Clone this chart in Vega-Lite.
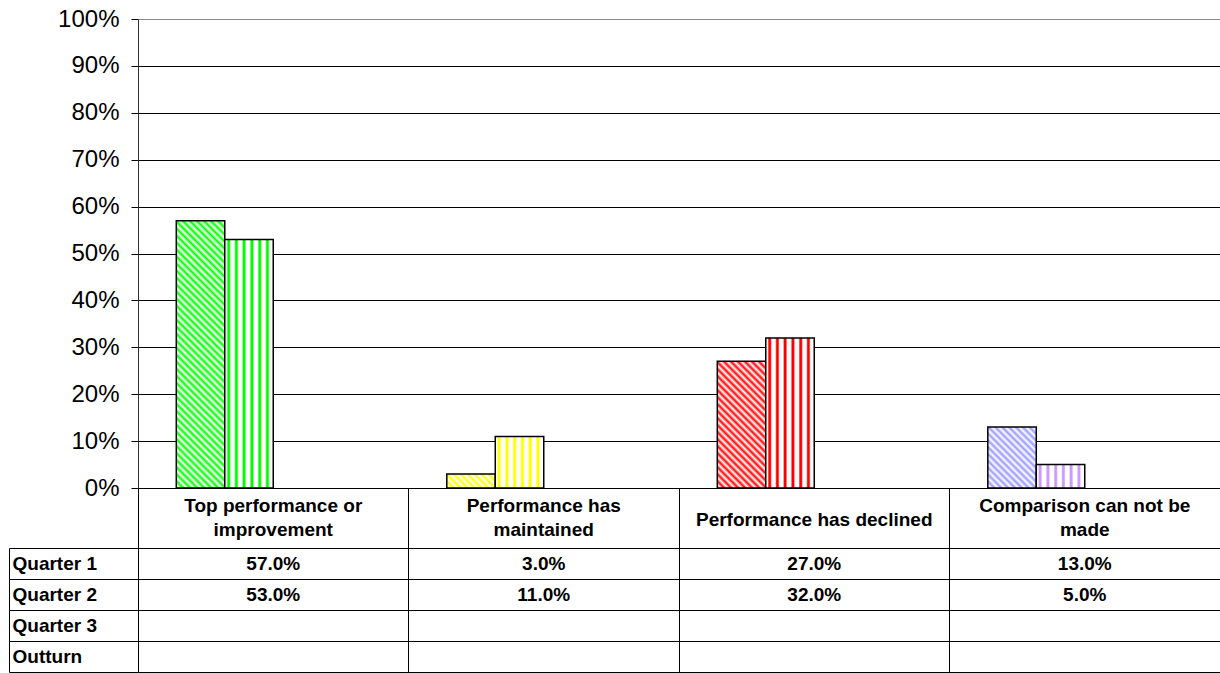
{
  "$schema": "https://vega.github.io/schema/vega-lite/v6.json",
  "padding": {"left": 8, "top": 7, "right": 0, "bottom": 0},
  "background": "white",
  "spacing": 60,
  "bounds": "flush",
  "config": {
    "view": {"stroke": null},
    "font": "Liberation Sans",
    "axis": {"labelFont": "Liberation Sans", "labelColor": "black"},
    "text": {"font": "Liberation Sans"}
  },
  "datasets": {
    "vals": [
      {"cat": "Top performance or improvement", "series": "Quarter 1", "value": 0.57},
      {"cat": "Top performance or improvement", "series": "Quarter 2", "value": 0.53},
      {"cat": "Performance has maintained", "series": "Quarter 1", "value": 0.03},
      {"cat": "Performance has maintained", "series": "Quarter 2", "value": 0.11},
      {"cat": "Performance has declined", "series": "Quarter 1", "value": 0.27},
      {"cat": "Performance has declined", "series": "Quarter 2", "value": 0.32},
      {"cat": "Comparison can not be made", "series": "Quarter 1", "value": 0.13},
      {"cat": "Comparison can not be made", "series": "Quarter 2", "value": 0.05}
    ]
  },
  "vconcat": [
    {
      "width": 1082,
      "height": 469,
      "data": {"name": "vals"},
      "mark": {"type": "bar", "stroke": "black", "strokeWidth": 1.5},
      "encoding": {
        "x": {
          "field": "cat", "type": "nominal",
          "sort": ["Top performance or improvement", "Performance has maintained", "Performance has declined", "Comparison can not be made"],
          "scale": {"type": "band", "paddingInner": 0, "paddingOuter": 0},
          "axis": {
            "title": null, "bandPosition": 0,
            "tickSize": 60, "tickColor": "black", "domainColor": "black",
            "labelPadding": {"condition": {"test": "datum.value == 'Performance has declined'", "value": -29}, "value": -43},
            "labelBaseline": "middle", "labelAngle": 0,
            "labelFontSize": 19, "labelFontWeight": "bold", "labelLimit": 0,
            "labelLineHeight": 24, "labelOverlap": false,
            "minExtent": 60, "maxExtent": 60,
            "labelExpr": "datum.value == 'Top performance or improvement' ? ['Top performance or', 'improvement'] : datum.value == 'Performance has maintained' ? ['Performance has', 'maintained'] : datum.value == 'Comparison can not be made' ? ['Comparison can not be', 'made'] : datum.label"
          }
        },
        "xOffset": {
          "field": "series", "type": "nominal",
          "scale": {"domain": ["Quarter 1", "Quarter 2", "Quarter 3", "Outturn"], "paddingInner": 0, "paddingOuter": 0.79}
        },
        "y": {
          "field": "value", "type": "quantitative",
          "scale": {"domain": [0, 1], "nice": false},
          "axis": {
            "title": null, "values": [0, 0.1, 0.2, 0.3, 0.4, 0.5, 0.6, 0.7, 0.8, 0.9, 1],
            "format": ".0%", "labelFontSize": 24, "labelPadding": 12,
            "tickSize": 7, "tickColor": "black", "domainColor": "#333333",
            "grid": true, "gridWidth": 1,
            "gridColor": {"condition": {"test": "datum.value >= 1", "value": "#888888"}, "value": "black"}
          }
        },
        "fill": {
          "condition": [
            {"test": "datum.series == 'Quarter 1' && datum.cat == 'Top performance or improvement'",
             "value": {"gradient": "linear", "x1": 0, "y1": 1, "x2": 0.2075, "y2": -0.1438, "stops": [
              {"offset": 0, "color": "#00ff00"}, {"offset": 0.0111, "color": "#ffffff"}, {"offset": 0.0222, "color": "#00ff00"}, {"offset": 0.0333, "color": "#ffffff"}, {"offset": 0.0444, "color": "#00ff00"}, {"offset": 0.0556, "color": "#ffffff"}, {"offset": 0.0667, "color": "#00ff00"}, {"offset": 0.0778, "color": "#ffffff"}, {"offset": 0.0889, "color": "#00ff00"}, {"offset": 0.1, "color": "#ffffff"},
              {"offset": 0.1111, "color": "#00ff00"}, {"offset": 0.1222, "color": "#ffffff"}, {"offset": 0.1333, "color": "#00ff00"}, {"offset": 0.1444, "color": "#ffffff"}, {"offset": 0.1556, "color": "#00ff00"}, {"offset": 0.1667, "color": "#ffffff"}, {"offset": 0.1778, "color": "#00ff00"}, {"offset": 0.1889, "color": "#ffffff"}, {"offset": 0.2, "color": "#00ff00"}, {"offset": 0.2111, "color": "#ffffff"},
              {"offset": 0.2222, "color": "#00ff00"}, {"offset": 0.2333, "color": "#ffffff"}, {"offset": 0.2444, "color": "#00ff00"}, {"offset": 0.2556, "color": "#ffffff"}, {"offset": 0.2667, "color": "#00ff00"}, {"offset": 0.2778, "color": "#ffffff"}, {"offset": 0.2889, "color": "#00ff00"}, {"offset": 0.3, "color": "#ffffff"}, {"offset": 0.3111, "color": "#00ff00"}, {"offset": 0.3222, "color": "#ffffff"},
              {"offset": 0.3333, "color": "#00ff00"}, {"offset": 0.3444, "color": "#ffffff"}, {"offset": 0.3556, "color": "#00ff00"}, {"offset": 0.3667, "color": "#ffffff"}, {"offset": 0.3778, "color": "#00ff00"}, {"offset": 0.3889, "color": "#ffffff"}, {"offset": 0.4, "color": "#00ff00"}, {"offset": 0.4111, "color": "#ffffff"}, {"offset": 0.4222, "color": "#00ff00"}, {"offset": 0.4333, "color": "#ffffff"},
              {"offset": 0.4444, "color": "#00ff00"}, {"offset": 0.4556, "color": "#ffffff"}, {"offset": 0.4667, "color": "#00ff00"}, {"offset": 0.4778, "color": "#ffffff"}, {"offset": 0.4889, "color": "#00ff00"}, {"offset": 0.5, "color": "#ffffff"}, {"offset": 0.5111, "color": "#00ff00"}, {"offset": 0.5222, "color": "#ffffff"}, {"offset": 0.5333, "color": "#00ff00"}, {"offset": 0.5444, "color": "#ffffff"},
              {"offset": 0.5556, "color": "#00ff00"}, {"offset": 0.5667, "color": "#ffffff"}, {"offset": 0.5778, "color": "#00ff00"}, {"offset": 0.5889, "color": "#ffffff"}, {"offset": 0.6, "color": "#00ff00"}, {"offset": 0.6111, "color": "#ffffff"}, {"offset": 0.6222, "color": "#00ff00"}, {"offset": 0.6333, "color": "#ffffff"}, {"offset": 0.6444, "color": "#00ff00"}, {"offset": 0.6556, "color": "#ffffff"},
              {"offset": 0.6667, "color": "#00ff00"}, {"offset": 0.6778, "color": "#ffffff"}, {"offset": 0.6889, "color": "#00ff00"}, {"offset": 0.7, "color": "#ffffff"}, {"offset": 0.7111, "color": "#00ff00"}, {"offset": 0.7222, "color": "#ffffff"}, {"offset": 0.7333, "color": "#00ff00"}, {"offset": 0.7444, "color": "#ffffff"}, {"offset": 0.7556, "color": "#00ff00"}, {"offset": 0.7667, "color": "#ffffff"},
              {"offset": 0.7778, "color": "#00ff00"}, {"offset": 0.7889, "color": "#ffffff"}, {"offset": 0.8, "color": "#00ff00"}, {"offset": 0.8111, "color": "#ffffff"}, {"offset": 0.8222, "color": "#00ff00"}, {"offset": 0.8333, "color": "#ffffff"}, {"offset": 0.8444, "color": "#00ff00"}, {"offset": 0.8556, "color": "#ffffff"}, {"offset": 0.8667, "color": "#00ff00"}, {"offset": 0.8778, "color": "#ffffff"},
              {"offset": 0.8889, "color": "#00ff00"}, {"offset": 0.9, "color": "#ffffff"}, {"offset": 0.9111, "color": "#00ff00"}, {"offset": 0.9222, "color": "#ffffff"}, {"offset": 0.9333, "color": "#00ff00"}, {"offset": 0.9444, "color": "#ffffff"}, {"offset": 0.9556, "color": "#00ff00"}, {"offset": 0.9667, "color": "#ffffff"}, {"offset": 0.9778, "color": "#00ff00"}, {"offset": 0.9889, "color": "#ffffff"},
              {"offset": 1, "color": "#00ff00"}
             ]}},
            {"test": "datum.series == 'Quarter 1' && datum.cat == 'Performance has maintained'",
             "value": {"gradient": "linear", "x1": 0, "y1": 1, "x2": 1.19, "y2": 0.6548, "stops": [
              {"offset": 0, "color": "#ffff00"}, {"offset": 0.0556, "color": "#ffffff"}, {"offset": 0.1111, "color": "#ffff00"}, {"offset": 0.1667, "color": "#ffffff"}, {"offset": 0.2222, "color": "#ffff00"}, {"offset": 0.2778, "color": "#ffffff"}, {"offset": 0.3333, "color": "#ffff00"}, {"offset": 0.3889, "color": "#ffffff"}, {"offset": 0.4444, "color": "#ffff00"}, {"offset": 0.5, "color": "#ffffff"},
              {"offset": 0.5556, "color": "#ffff00"}, {"offset": 0.6111, "color": "#ffffff"}, {"offset": 0.6667, "color": "#ffff00"}, {"offset": 0.7222, "color": "#ffffff"}, {"offset": 0.7778, "color": "#ffff00"}, {"offset": 0.8333, "color": "#ffffff"}, {"offset": 0.8889, "color": "#ffff00"}, {"offset": 0.9444, "color": "#ffffff"}, {"offset": 1, "color": "#ffff00"}
             ]}},
            {"test": "datum.series == 'Quarter 1' && datum.cat == 'Performance has declined'",
             "value": {"gradient": "linear", "x1": 0, "y1": 1, "x2": 0.4619, "y2": -0.2061, "stops": [
              {"offset": 0, "color": "#ff0000"}, {"offset": 0.02, "color": "#ffffff"}, {"offset": 0.04, "color": "#ff0000"}, {"offset": 0.06, "color": "#ffffff"}, {"offset": 0.08, "color": "#ff0000"}, {"offset": 0.1, "color": "#ffffff"}, {"offset": 0.12, "color": "#ff0000"}, {"offset": 0.14, "color": "#ffffff"}, {"offset": 0.16, "color": "#ff0000"}, {"offset": 0.18, "color": "#ffffff"},
              {"offset": 0.2, "color": "#ff0000"}, {"offset": 0.22, "color": "#ffffff"}, {"offset": 0.24, "color": "#ff0000"}, {"offset": 0.26, "color": "#ffffff"}, {"offset": 0.28, "color": "#ff0000"}, {"offset": 0.3, "color": "#ffffff"}, {"offset": 0.32, "color": "#ff0000"}, {"offset": 0.34, "color": "#ffffff"}, {"offset": 0.36, "color": "#ff0000"}, {"offset": 0.38, "color": "#ffffff"},
              {"offset": 0.4, "color": "#ff0000"}, {"offset": 0.42, "color": "#ffffff"}, {"offset": 0.44, "color": "#ff0000"}, {"offset": 0.46, "color": "#ffffff"}, {"offset": 0.48, "color": "#ff0000"}, {"offset": 0.5, "color": "#ffffff"}, {"offset": 0.52, "color": "#ff0000"}, {"offset": 0.54, "color": "#ffffff"}, {"offset": 0.56, "color": "#ff0000"}, {"offset": 0.58, "color": "#ffffff"},
              {"offset": 0.6, "color": "#ff0000"}, {"offset": 0.62, "color": "#ffffff"}, {"offset": 0.64, "color": "#ff0000"}, {"offset": 0.66, "color": "#ffffff"}, {"offset": 0.68, "color": "#ff0000"}, {"offset": 0.7, "color": "#ffffff"}, {"offset": 0.72, "color": "#ff0000"}, {"offset": 0.74, "color": "#ffffff"}, {"offset": 0.76, "color": "#ff0000"}, {"offset": 0.78, "color": "#ffffff"},
              {"offset": 0.8, "color": "#ff0000"}, {"offset": 0.82, "color": "#ffffff"}, {"offset": 0.84, "color": "#ff0000"}, {"offset": 0.86, "color": "#ffffff"}, {"offset": 0.88, "color": "#ff0000"}, {"offset": 0.9, "color": "#ffffff"}, {"offset": 0.92, "color": "#ff0000"}, {"offset": 0.94, "color": "#ffffff"}, {"offset": 0.96, "color": "#ff0000"}, {"offset": 0.98, "color": "#ffffff"},
              {"offset": 1, "color": "#ff0000"}
             ]}},
            {"test": "datum.series == 'Quarter 1' && datum.cat == 'Comparison can not be made'",
             "value": {"gradient": "linear", "x1": 0, "y1": 1, "x2": 0.8747, "y2": -0.0997, "stops": [
              {"offset": 0, "color": "#9999ff"}, {"offset": 0.03125, "color": "#ffffff"}, {"offset": 0.0625, "color": "#9999ff"}, {"offset": 0.09375, "color": "#ffffff"}, {"offset": 0.125, "color": "#9999ff"}, {"offset": 0.15625, "color": "#ffffff"}, {"offset": 0.1875, "color": "#9999ff"}, {"offset": 0.21875, "color": "#ffffff"}, {"offset": 0.25, "color": "#9999ff"}, {"offset": 0.28125, "color": "#ffffff"},
              {"offset": 0.3125, "color": "#9999ff"}, {"offset": 0.34375, "color": "#ffffff"}, {"offset": 0.375, "color": "#9999ff"}, {"offset": 0.40625, "color": "#ffffff"}, {"offset": 0.4375, "color": "#9999ff"}, {"offset": 0.46875, "color": "#ffffff"}, {"offset": 0.5, "color": "#9999ff"}, {"offset": 0.53125, "color": "#ffffff"}, {"offset": 0.5625, "color": "#9999ff"}, {"offset": 0.59375, "color": "#ffffff"},
              {"offset": 0.625, "color": "#9999ff"}, {"offset": 0.65625, "color": "#ffffff"}, {"offset": 0.6875, "color": "#9999ff"}, {"offset": 0.71875, "color": "#ffffff"}, {"offset": 0.75, "color": "#9999ff"}, {"offset": 0.78125, "color": "#ffffff"}, {"offset": 0.8125, "color": "#9999ff"}, {"offset": 0.84375, "color": "#ffffff"}, {"offset": 0.875, "color": "#9999ff"}, {"offset": 0.90625, "color": "#ffffff"},
              {"offset": 0.9375, "color": "#9999ff"}, {"offset": 0.96875, "color": "#ffffff"}, {"offset": 1, "color": "#9999ff"}
             ]}},
            {"test": "datum.series == 'Quarter 2' && datum.cat == 'Top performance or improvement'",
             "value": {"gradient": "linear", "x1": 0, "y1": 0, "x2": 1, "y2": 0, "stops": [
              {"offset": 0, "color": "#ffffff"}, {"offset": 0.035, "color": "#ffffff"}, {"offset": 0.065, "color": "#00ff00"}, {"offset": 0.095, "color": "#00ff00"}, {"offset": 0.125, "color": "#ffffff"},
              {"offset": 0.195, "color": "#ffffff"}, {"offset": 0.225, "color": "#00ff00"}, {"offset": 0.255, "color": "#00ff00"}, {"offset": 0.285, "color": "#ffffff"},
              {"offset": 0.355, "color": "#ffffff"}, {"offset": 0.385, "color": "#00ff00"}, {"offset": 0.415, "color": "#00ff00"}, {"offset": 0.445, "color": "#ffffff"},
              {"offset": 0.515, "color": "#ffffff"}, {"offset": 0.545, "color": "#00ff00"}, {"offset": 0.575, "color": "#00ff00"}, {"offset": 0.605, "color": "#ffffff"},
              {"offset": 0.675, "color": "#ffffff"}, {"offset": 0.705, "color": "#00ff00"}, {"offset": 0.735, "color": "#00ff00"}, {"offset": 0.765, "color": "#ffffff"},
              {"offset": 0.835, "color": "#ffffff"}, {"offset": 0.865, "color": "#00ff00"}, {"offset": 0.895, "color": "#00ff00"}, {"offset": 0.925, "color": "#ffffff"},
              {"offset": 1, "color": "#ffffff"}
             ]}},
            {"test": "datum.series == 'Quarter 2' && datum.cat == 'Performance has maintained'",
             "value": {"gradient": "linear", "x1": 0, "y1": 0, "x2": 1, "y2": 0, "stops": [
              {"offset": 0, "color": "#ffffff"}, {"offset": 0.035, "color": "#ffffff"}, {"offset": 0.065, "color": "#ffff00"}, {"offset": 0.095, "color": "#ffff00"}, {"offset": 0.125, "color": "#ffffff"},
              {"offset": 0.195, "color": "#ffffff"}, {"offset": 0.225, "color": "#ffff00"}, {"offset": 0.255, "color": "#ffff00"}, {"offset": 0.285, "color": "#ffffff"},
              {"offset": 0.355, "color": "#ffffff"}, {"offset": 0.385, "color": "#ffff00"}, {"offset": 0.415, "color": "#ffff00"}, {"offset": 0.445, "color": "#ffffff"},
              {"offset": 0.515, "color": "#ffffff"}, {"offset": 0.545, "color": "#ffff00"}, {"offset": 0.575, "color": "#ffff00"}, {"offset": 0.605, "color": "#ffffff"},
              {"offset": 0.675, "color": "#ffffff"}, {"offset": 0.705, "color": "#ffff00"}, {"offset": 0.735, "color": "#ffff00"}, {"offset": 0.765, "color": "#ffffff"},
              {"offset": 0.835, "color": "#ffffff"}, {"offset": 0.865, "color": "#ffff00"}, {"offset": 0.895, "color": "#ffff00"}, {"offset": 0.925, "color": "#ffffff"},
              {"offset": 1, "color": "#ffffff"}
             ]}},
            {"test": "datum.series == 'Quarter 2' && datum.cat == 'Performance has declined'",
             "value": {"gradient": "linear", "x1": 0, "y1": 0, "x2": 1, "y2": 0, "stops": [
              {"offset": 0, "color": "#ffffff"}, {"offset": 0.035, "color": "#ffffff"}, {"offset": 0.065, "color": "#ff0000"}, {"offset": 0.095, "color": "#ff0000"}, {"offset": 0.125, "color": "#ffffff"},
              {"offset": 0.195, "color": "#ffffff"}, {"offset": 0.225, "color": "#ff0000"}, {"offset": 0.255, "color": "#ff0000"}, {"offset": 0.285, "color": "#ffffff"},
              {"offset": 0.355, "color": "#ffffff"}, {"offset": 0.385, "color": "#ff0000"}, {"offset": 0.415, "color": "#ff0000"}, {"offset": 0.445, "color": "#ffffff"},
              {"offset": 0.515, "color": "#ffffff"}, {"offset": 0.545, "color": "#ff0000"}, {"offset": 0.575, "color": "#ff0000"}, {"offset": 0.605, "color": "#ffffff"},
              {"offset": 0.675, "color": "#ffffff"}, {"offset": 0.705, "color": "#ff0000"}, {"offset": 0.735, "color": "#ff0000"}, {"offset": 0.765, "color": "#ffffff"},
              {"offset": 0.835, "color": "#ffffff"}, {"offset": 0.865, "color": "#ff0000"}, {"offset": 0.895, "color": "#ff0000"}, {"offset": 0.925, "color": "#ffffff"},
              {"offset": 1, "color": "#ffffff"}
             ]}},
            {"test": "datum.series == 'Quarter 2' && datum.cat == 'Comparison can not be made'",
             "value": {"gradient": "linear", "x1": 0, "y1": 0, "x2": 1, "y2": 0, "stops": [
              {"offset": 0, "color": "#ffffff"}, {"offset": 0.035, "color": "#ffffff"}, {"offset": 0.065, "color": "#cc99ff"}, {"offset": 0.095, "color": "#cc99ff"}, {"offset": 0.125, "color": "#ffffff"},
              {"offset": 0.195, "color": "#ffffff"}, {"offset": 0.225, "color": "#cc99ff"}, {"offset": 0.255, "color": "#cc99ff"}, {"offset": 0.285, "color": "#ffffff"},
              {"offset": 0.355, "color": "#ffffff"}, {"offset": 0.385, "color": "#cc99ff"}, {"offset": 0.415, "color": "#cc99ff"}, {"offset": 0.445, "color": "#ffffff"},
              {"offset": 0.515, "color": "#ffffff"}, {"offset": 0.545, "color": "#cc99ff"}, {"offset": 0.575, "color": "#cc99ff"}, {"offset": 0.605, "color": "#ffffff"},
              {"offset": 0.675, "color": "#ffffff"}, {"offset": 0.705, "color": "#cc99ff"}, {"offset": 0.735, "color": "#cc99ff"}, {"offset": 0.765, "color": "#ffffff"},
              {"offset": 0.835, "color": "#ffffff"}, {"offset": 0.865, "color": "#cc99ff"}, {"offset": 0.895, "color": "#cc99ff"}, {"offset": 0.925, "color": "#ffffff"},
              {"offset": 1, "color": "#ffffff"}
             ]}}
          ],
          "value": "white"
        }
      }
    },
    {
      "width": 1082,
      "height": 124,
      "data": {"name": "vals"},
      "mark": {"type": "text", "fontSize": 19, "fontWeight": "bold", "color": "black", "align": "center", "baseline": "middle"},
      "encoding": {
        "x": {
          "field": "cat", "type": "nominal",
          "sort": ["Top performance or improvement", "Performance has maintained", "Performance has declined", "Comparison can not be made"],
          "scale": {"type": "band", "paddingInner": 0, "paddingOuter": 0},
          "axis": {"title": null, "orient": "bottom", "labels": false, "ticks": true, "tickSize": -124, "tickColor": "black", "bandPosition": 0, "domain": false, "grid": false}
        },
        "y": {
          "field": "series", "type": "nominal",
          "scale": {"type": "band", "domain": ["Quarter 1", "Quarter 2", "Quarter 3", "Outturn"], "paddingInner": 0, "paddingOuter": 0},
          "axis": {
            "title": null, "orient": "left", "offset": 129, "tickSize": -129, "tickBand": "extent",
            "tickColor": "black", "domainColor": "black", "grid": true, "gridColor": "black",
            "labelAlign": "left", "labelPadding": 126, "labelBaseline": "middle",
            "labelFontSize": 19, "labelFontWeight": "bold"
          }
        },
        "text": {"field": "value", "type": "quantitative", "format": ".1%"}
      }
    }
  ]
}
